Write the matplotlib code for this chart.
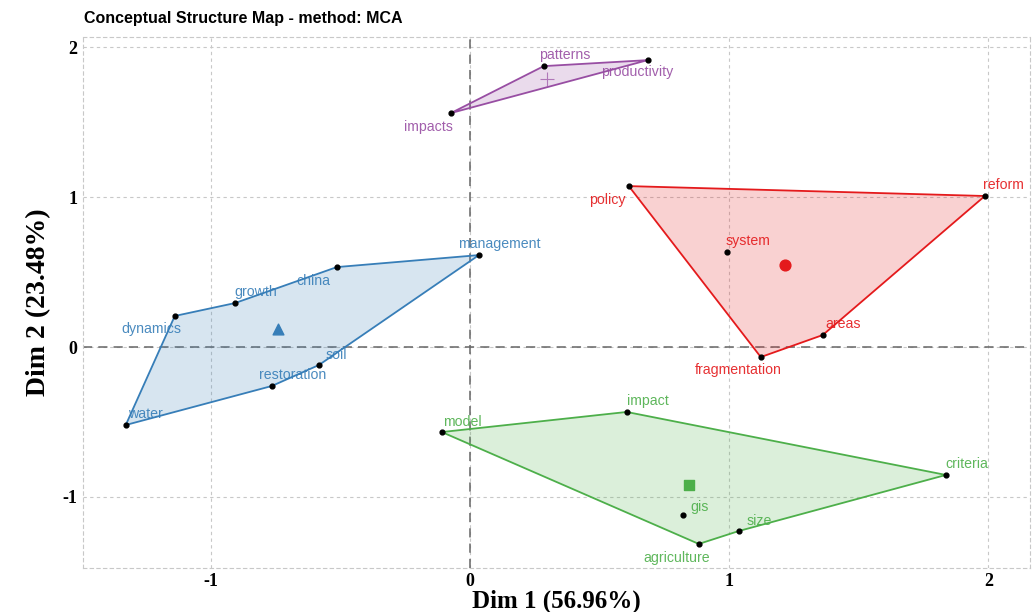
"""Conceptual structure map (MCA) with clustered word hulls."""

import matplotlib.pyplot as plt
import numpy as np

plt.rcParams["axes.unicode_minus"] = False

# cluster 1 (blue)
blue_words = ["management", "china", "growth", "dynamics", "soil", "restoration", "water"]
blue_x = [0.035, -0.513, -0.906, -1.138, -0.582, -0.764, -1.327]
blue_y = [0.613, 0.533, 0.293, 0.207, -0.120, -0.260, -0.520]
blue_centre = (-0.74, 0.12)
blue_outline = ["water", "dynamics", "growth", "china", "management", "soil", "restoration"]

# cluster 2 (red)
red_words = ["policy", "reform", "system", "areas", "fragmentation"]
red_x = [0.613, 1.986, 0.991, 1.361, 1.122]
red_y = [1.073, 1.007, 0.633, 0.080, -0.067]
red_centre = (1.215, 0.547)
red_outline = ["policy", "reform", "areas", "fragmentation"]

# cluster 3 (green)
green_words = ["model", "impact", "criteria", "size", "agriculture", "gis"]
green_x = [-0.108, 0.605, 1.836, 1.037, 0.883, 0.821]
green_y = [-0.567, -0.433, -0.853, -1.227, -1.313, -1.120]
green_centre = (0.845, -0.92)
green_outline = ["model", "impact", "criteria", "size", "agriculture"]

# cluster 4 (purple)
purple_words = ["patterns", "productivity", "impacts"]
purple_x = [0.285, 0.686, -0.073]
purple_y = [1.873, 1.913, 1.560]
purple_centre = (0.297, 1.787)
purple_outline = ["impacts", "patterns", "productivity"]

# label offsets in pixels (dx, dy)
label_offsets = {
    "management": (20, 11), "china": (-23, -14), "growth": (21, 11),
    "dynamics": (-23, -13), "soil": (17, 10), "restoration": (21, 11),
    "water": (20, 11),
    "policy": (-22, -14), "reform": (19, 11), "system": (21, 11),
    "areas": (20, 11), "fragmentation": (-23, -13),
    "model": (21, 10), "impact": (21, 11), "criteria": (21, 11),
    "size": (20, 10), "agriculture": (-22, -14), "gis": (17, 8),
    "patterns": (21, 11), "productivity": (-11, -12), "impacts": (-22, -14),
}

clusters = [
    (blue_words, blue_x, blue_y, blue_centre, blue_outline, "#377EB8", "^"),
    (red_words, red_x, red_y, red_centre, red_outline, "#E41A1C", "o"),
    (green_words, green_x, green_y, green_centre, green_outline, "#4DAF4A", "s"),
    (purple_words, purple_x, purple_y, purple_centre, purple_outline, "#984EA3", "+"),
]

fig = plt.figure(figsize=(10.32, 6.12), dpi=100)
ax = fig.add_axes([0.0804, 0.072, 0.9176, 0.8675])

ax.set_xlim(-1.492, 2.16)
ax.set_ylim(-1.473, 2.067)
ax.set_xticks([-1, 0, 1, 2])
ax.set_yticks([-1, 0, 1, 2])
ax.grid(True, color="#c8c8c8", lw=0.8, ls=(0, (3, 3)))
ax.set_axisbelow(True)
for sp in ax.spines.values():
    sp.set_color("#c8c8c8")
    sp.set_linestyle((0, (3, 3)))
    sp.set_linewidth(0.8)
ax.tick_params(length=0, pad=4)
for lab in ax.get_xticklabels() + ax.get_yticklabels():
    lab.set_fontfamily("Liberation Serif")
    lab.set_fontweight("bold")
    lab.set_fontsize(13)

ax.axhline(0, color="#666666", lw=1.1, ls=(0, (6, 4)), zorder=1)
ax.axvline(0, color="#666666", lw=1.1, ls=(0, (6, 4)), zorder=1)

for words, xs, ys, centre, outline, col, mk in clusters:
    pos = dict(zip(words, zip(xs, ys)))
    poly = np.array([pos[w] for w in outline])
    ax.fill(poly[:, 0], poly[:, 1], facecolor=col, alpha=0.2, edgecolor="none", zorder=2)
    ax.fill(poly[:, 0], poly[:, 1], facecolor="none", edgecolor=col, lw=1.3, zorder=3)
    ax.scatter(xs, ys, s=12, color="black", zorder=4)
    if mk == "+":
        ax.scatter([centre[0]], [centre[1]], marker="+", s=110, color=col,
                   linewidths=0.8, alpha=0.7, zorder=4)
    else:
        ax.scatter([centre[0]], [centre[1]], marker=mk, s=60, color=col, zorder=4)
    for w, x, y in zip(words, xs, ys):
        dx, dy = label_offsets[w]
        ax.annotate(w, (x, y), xytext=(dx, dy), textcoords="offset pixels",
                    ha="center", va="center", color=col, alpha=0.9,
                    fontsize=10.2, fontfamily="Liberation Sans", zorder=5)

ax.set_xlabel("Dim 1 (56.96%)", fontfamily="Liberation Serif", fontweight="bold",
              fontsize=18, labelpad=-1)
ax.set_ylabel("Dim 2 (23.48%)", fontfamily="Liberation Serif", fontweight="bold",
              fontsize=20, labelpad=8)
fig.text(0.0814, 0.970, "Conceptual Structure Map - method: MCA",
         fontfamily="Liberation Sans", fontweight="bold", fontsize=11.5,
         ha="left", va="center")

fig.savefig("out.png", dpi=100)
